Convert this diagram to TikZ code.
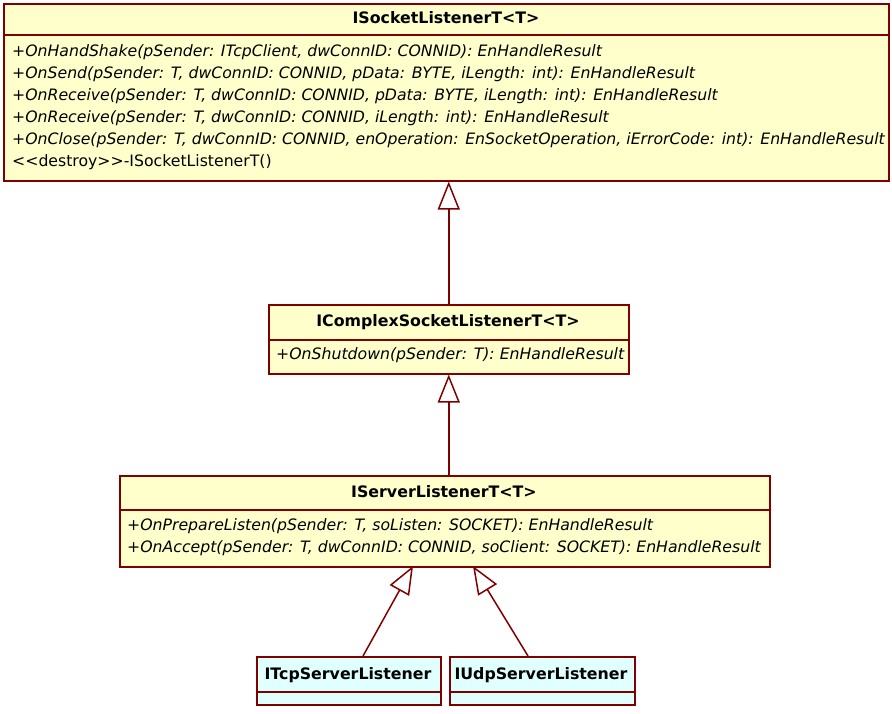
\documentclass[tikz,border=0pt]{standalone}
\usepackage{fontspec}
\setmainfont{DejaVu Sans}
\usetikzlibrary{arrows.meta}
\definecolor{bord}{RGB}{128,0,0}
\definecolor{yfill}{RGB}{255,255,204}
\definecolor{cfill}{RGB}{224,255,255}
\begin{document}
\begin{tikzpicture}[x=1pt,y=-1pt,
  box/.style={draw=bord, line width=1.5pt, inner sep=0pt, anchor=north west},
  ybox/.style={box, fill=yfill},
  cbox/.style={box, fill=cfill},
  div/.style={draw=bord, line width=1.2pt},
  ttl/.style={font=\fontsize{15.8}{18}\selectfont\bfseries, inner sep=0pt},
  meth/.style={font=\fontsize{15.7}{18}\selectfont\itshape, inner sep=0pt, anchor=west},
  txt/.style={font=\fontsize{15.7}{18}\selectfont, inner sep=0pt, anchor=west},
  inh/.style={draw=bord, line width=1.5pt, -{Triangle[open, fill=white, length=28pt, width=22pt]}}]
\useasboundingbox (0,0) rectangle (892,713);
% ISocketListenerT
\node[ybox, minimum width=885pt, minimum height=177pt] (s) at (3,3) {};
\draw[div] (3,35) -- (890,35);
\node[ttl] (st) at (446,18) {ISocketListenerT<T>};
\node[meth] (s1) at (12,52) {+OnHandShake(pSender: ITcpClient, dwConnID: CONNID): EnHandleResult};
\node[meth] (s2) at (12,74) {+OnSend(pSender: T, dwConnID: CONNID, pData: BYTE, iLength: int): EnHandleResult};
\node[meth] (s3) at (12,96) {+OnReceive(pSender: T, dwConnID: CONNID, pData: BYTE, iLength: int): EnHandleResult};
\node[meth] (s4) at (12,118) {+OnReceive(pSender: T, dwConnID: CONNID, iLength: int): EnHandleResult};
\node[meth] (s5) at (12,140) {+OnClose(pSender: T, dwConnID: CONNID, enOperation: EnSocketOperation, iErrorCode: int): EnHandleResult};
\node[txt] (s6) at (12,162) {<{}<destroy>{}>-ISocketListenerT()};
% IComplexSocketListenerT
\node[ybox, minimum width=360pt, minimum height=69pt] (c) at (268,304) {};
\draw[div] (268,340) -- (630,340);
\node[ttl] (ct) at (448,322) {IComplexSocketListenerT<T>};
\node[meth] (c1) at (276,355) {+OnShutdown(pSender: T): EnHandleResult};
% IServerListenerT
\node[ybox, minimum width=650pt, minimum height=91pt] (v) at (119,475) {};
\draw[div] (119,510) -- (771,510);
\node[ttl] (vt) at (444,492) {IServerListenerT<T>};
\node[meth] (v1) at (127,526) {+OnPrepareListen(pSender: T, soListen: SOCKET): EnHandleResult};
\node[meth] (v2) at (127,548) {+OnAccept(pSender: T, dwConnID: CONNID, soClient: SOCKET): EnHandleResult};
% ITcpServerListener
\node[cbox, minimum width=184pt, minimum height=48pt] (t) at (256,656) {};
\draw[div] (256,692) -- (441,692);
\node[ttl] (tt) at (348,675) {ITcpServerListener};
% IUdpServerListener
\node[cbox, minimum width=185pt, minimum height=48pt] (u) at (449,656) {};
\draw[div] (449,692) -- (635,692);
\node[ttl] (ut) at (541,675) {IUdpServerListener};
% connectors
\coordinate (ta) at (363,656);
\coordinate (ua) at (528,656);
\coordinate (vt1) at (413,566);
\coordinate (vt2) at (473,566);
\draw[inh] (c.north) -- (c.north |- s.south);
\draw[inh] (v.north -| c.north) -- (c.south);
\draw[inh] (ta) -- (vt1);
\draw[inh] (ua) -- (vt2);
\end{tikzpicture}
\end{document}
